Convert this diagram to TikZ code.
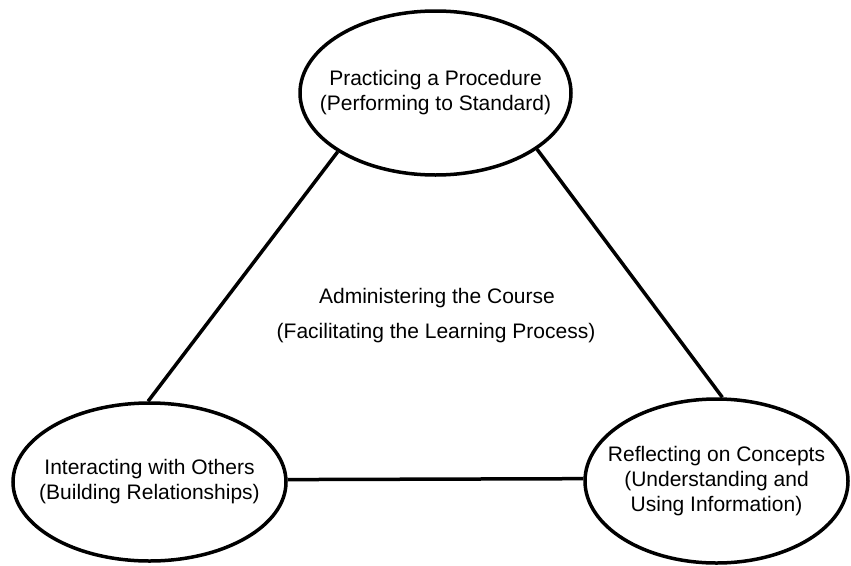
\documentclass[tikz,border=0pt]{standalone}
\usepackage{fontspec}
\setmainfont{Liberation Sans}
\usetikzlibrary{shapes.geometric}
\tikzset{
  topic/.style={ellipse, draw=black, line width=3.5pt, inner sep=0pt},
  link/.style={draw=black, line width=3.5pt},
  label/.style={inner sep=0pt, align=center, font=\fontsize{21}{25}\selectfont}
}
\begin{document}
\begin{tikzpicture}[x=1pt,y=-1pt]
\useasboundingbox[fill=white] (0,0) rectangle (851,565);
\node[topic, minimum width=271pt, minimum height=164pt] (top) at (435.5,93) {};
\node[label] (topt) at (top.center) {Practicing a Procedure\\(Performing to Standard)};
\node[topic, minimum width=273pt, minimum height=158pt] (bl) at (149.5,482) {};
\node[label] (blt) at (bl.center) {Interacting with Others\\(Building Relationships)};
\node[topic, minimum width=263pt, minimum height=164pt] (br) at (716.5,481) {};
\node[label] (brt) at (br.center) {Reflecting on Concepts\\(Understanding and\\Using Information)};
\node[label] (admin) at (437,298) {Administering the Course};
\node[label] (facil) at (436,333) {(Facilitating the Learning Process)};
\draw[link] (top.211) -- (bl.91);
\draw[link] (top.-29) -- (br.86);
\draw[link] (bl.1) -- (br.179);
\end{tikzpicture}
\end{document}
